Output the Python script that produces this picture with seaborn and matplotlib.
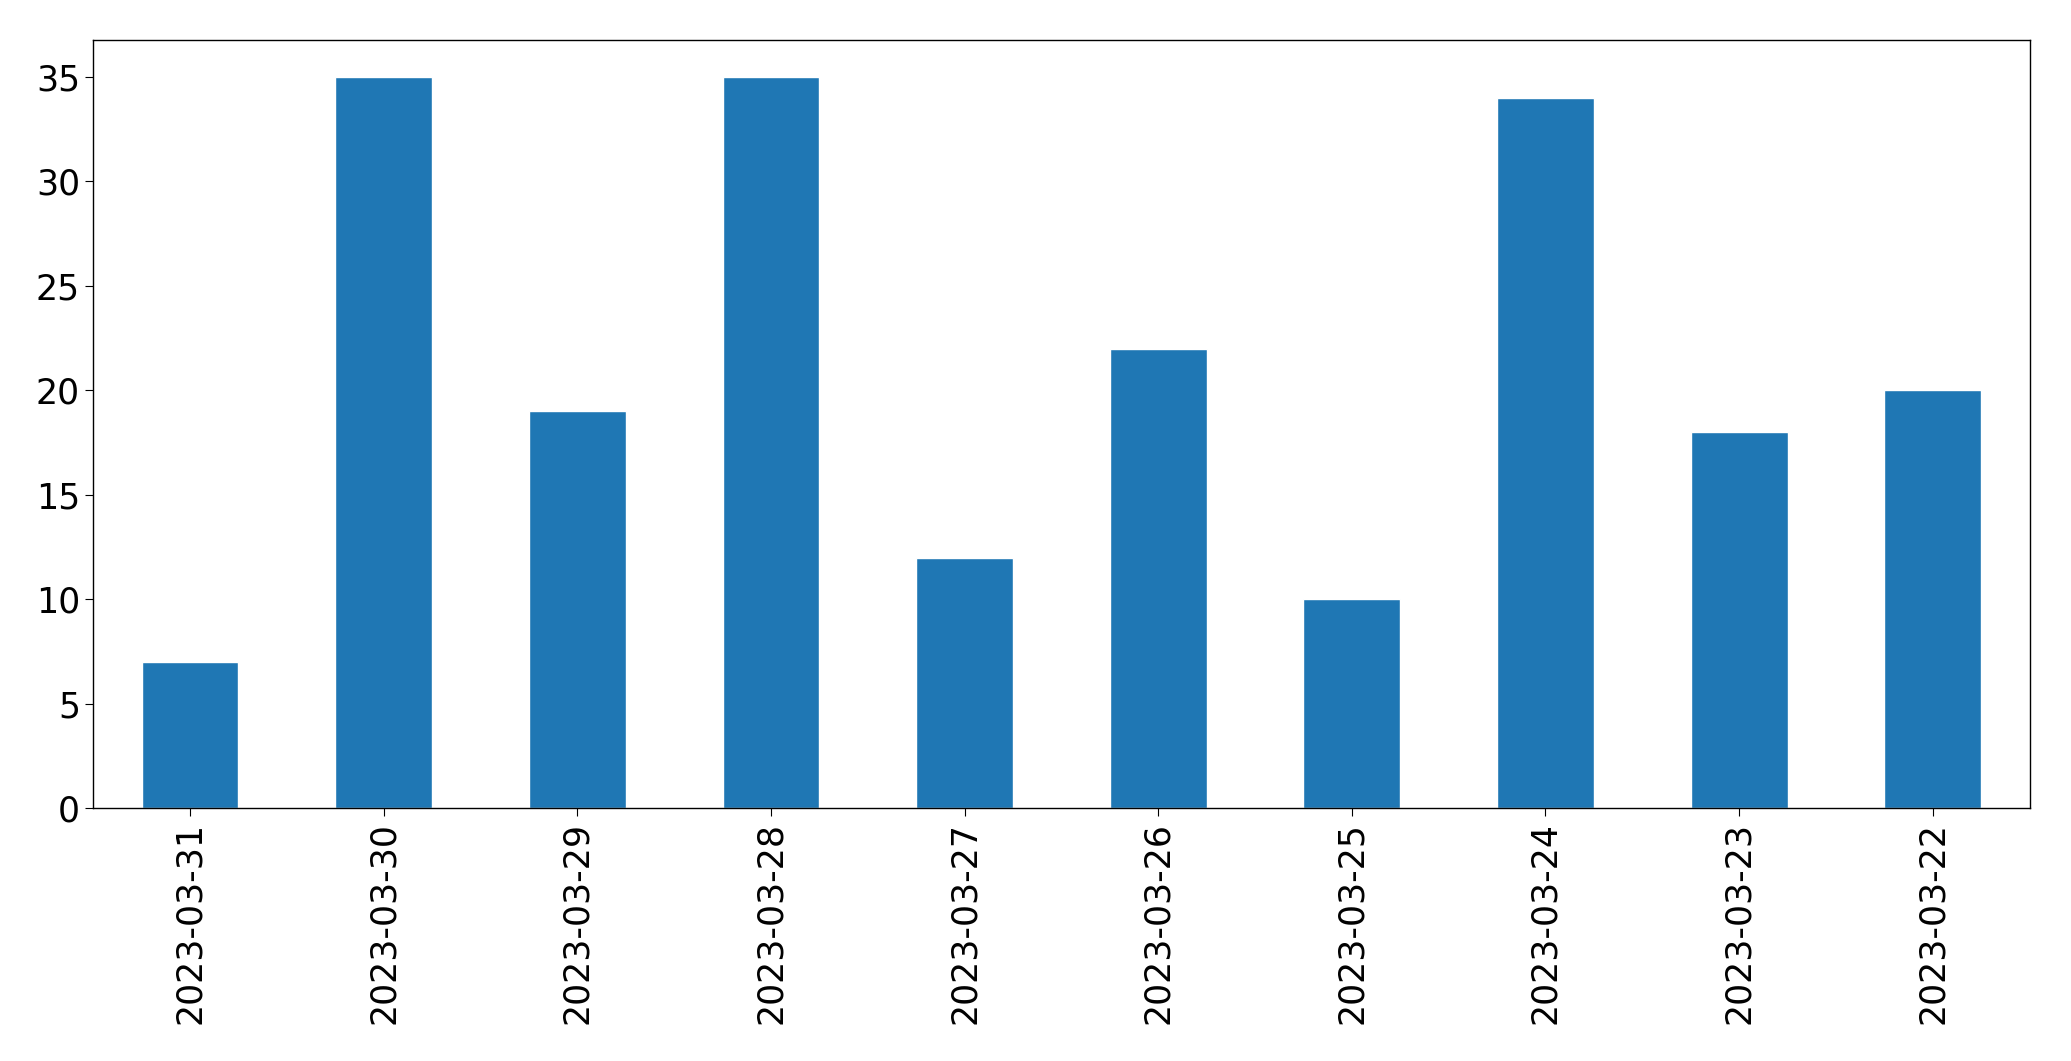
import matplotlib
matplotlib.use("Agg")
import matplotlib.pyplot as plt
import pandas as pd
import seaborn as sns

dates = ["2023-03-31", "2023-03-30", "2023-03-29", "2023-03-28", "2023-03-27",
         "2023-03-26", "2023-03-25", "2023-03-24", "2023-03-23", "2023-03-22"]
counts = [7, 35, 19, 35, 12, 22, 10, 34, 18, 20]

frame = pd.DataFrame({"date": dates, "count": counts})

sns.set_style("ticks", {"axes.edgecolor": "black", "xtick.color": "black",
                        "ytick.color": "black", "text.color": "black"})
plt.rcParams["font.family"] = ["DejaVu Sans"]

fig, ax = plt.subplots(figsize=(20.71, 10.61), dpi=100)
sns.barplot(data=frame, x="date", y="count", order=dates, color="#1f77b4",
            saturation=1, width=0.5, ax=ax)
ax.set_xlabel("")
ax.set_ylabel("")
ax.set_xlim(-0.5, len(dates) - 0.5)
ax.tick_params(axis="x", labelrotation=90, labelsize=25, length=6, colors="black")
ax.tick_params(axis="y", labelsize=25, length=6, colors="black")
for side in ax.spines.values():
    side.set_visible(True)
    side.set_linewidth(1.0)
    side.set_color("black")
fig.subplots_adjust(left=0.045, right=0.98, top=0.962, bottom=0.238)
fig.savefig("out.png", dpi=100)
plt.close(fig)
